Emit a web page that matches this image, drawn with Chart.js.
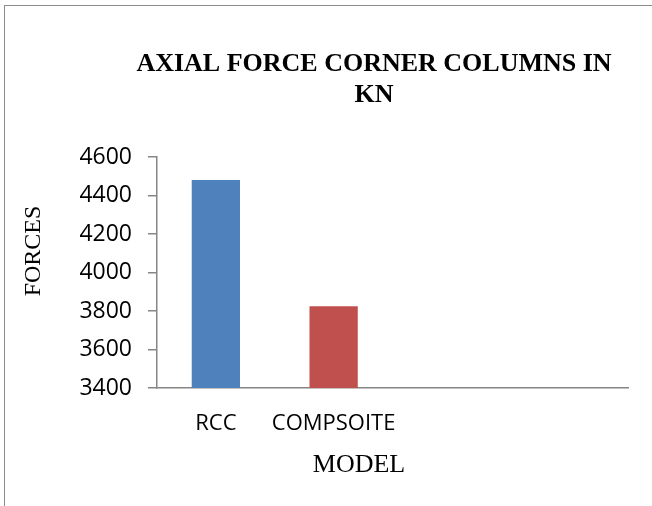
<!DOCTYPE html>
<html>
<head>
<meta charset="utf-8">
<script src="https://cdn.jsdelivr.net/npm/chart.js@4.4.1/dist/chart.umd.min.js"></script>
<style>
  html, body { margin: 0; padding: 0; background: #fff; }
  #wrap { position: relative; width: 652px; height: 506px; overflow: hidden; }
  #frame { position: absolute; left: 4px; top: 5px; right: -10px; bottom: -10px;
           border-left: 1px solid #8c8c8c; border-top: 1px solid #8c8c8c; }
  canvas { position: absolute; left: 0; top: 0; }
</style>
</head>
<body>
<div id="wrap">
  <div id="frame"></div>
  <canvas id="chart" width="652" height="506"></canvas>
</div>
<script>
// chart data
const categories = ['RCC', 'COMPSOITE', '', ''];
const forces = [4480, 3825, null, null];
const barColors = ['#4F81BD', '#C0504D', '#4F81BD', '#4F81BD'];
const yTicks = [3400, 3600, 3800, 4000, 4200, 4400, 4600];

const titleLines = ['AXIAL FORCE CORNER COLUMNS IN', 'KN'];
const xTitle = 'MODEL';
const yTitle = 'FORCES';

// excel places the titles freely, so draw them ourselves
const freeTitles = {
    id: 'freeTitles',
    afterDraw(chart){
        const ctx = chart.ctx;
        ctx.save();
        ctx.fillStyle = '#000';
        ctx.textAlign = 'center';
        ctx.textBaseline = 'middle';
        ctx.font = 'bold 26px "Liberation Serif"';
        ctx.fillText(titleLines[0], 374, 64);
        ctx.fillText(titleLines[1], 374, 95);
        ctx.font = '26px "Liberation Serif"';
        ctx.fillText(xTitle, 359, 465);
        ctx.font = '24px "Liberation Serif"';
        ctx.translate(34, 251);
        ctx.rotate(-Math.PI / 2);
        ctx.fillText(yTitle, 0, 0);
        ctx.restore();
    }
};

new Chart(document.getElementById('chart'), {
    type: 'bar',
    data: {
        labels: categories,
        datasets: [{
            data: forces,
            backgroundColor: barColors,
            borderWidth: 0,
            categoryPercentage: 1,
            barPercentage: 0.41
        }]
    },
    options: {
        responsive: false,
        animation: false,
        layout: { padding: { left: 0, top: 157, right: 24, bottom: 0 } },
        plugins: { legend: { display: false }, title: { display: false }, tooltip: { enabled: false } },
        scales: {
            x: {
                grid: { display: false, drawTicks: false },
                border: { color: '#868686', width: 1.5 },
                ticks: { color: '#000', padding: 23, font: { family: '"Open Sans"', size: 22 }, maxRotation: 0, autoSkip: false },
                afterFit(scale){ scale.height = 118; }
            },
            y: {
                min: yTicks[0],
                max: yTicks[yTicks.length - 1],
                grid: { drawOnChartArea: false, drawTicks: true, tickLength: 9, color: '#868686', lineWidth: 1.5 },
                border: { color: '#868686', width: 1.5 },
                ticks: {
                    stepSize: 200, color: '#000', padding: 16,
                    font: { family: '"Open Sans"', size: 23 },
                    callback: v => String(v)
                },
                afterFit(scale){ scale.width = 157; }
            }
        }
    },
    plugins: [freeTitles]
});
</script>
</body>
</html>
